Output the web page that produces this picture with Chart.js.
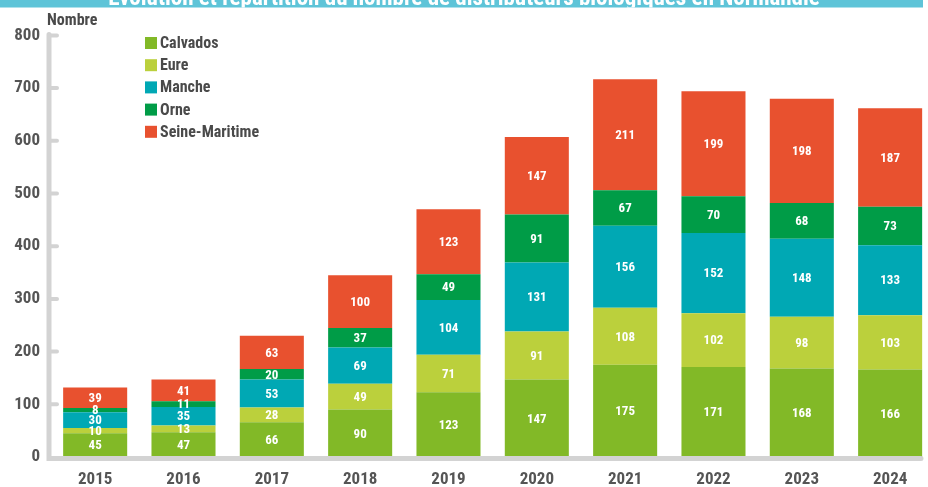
<!DOCTYPE html>
<html lang="fr">
<head>
  <meta charset="UTF-8" />
  <title>Distributeurs biologiques en Normandie</title>
  <script src="https://cdn.jsdelivr.net/npm/chart.js"></script>
  <style>
    html, body {
      margin: 0;
      padding: 0;
      background: #fff;
      overflow: hidden;
    }
    #wrap {
      position: relative;
      width: 940px;
      height: 487px;
    }
  </style>
</head>
<body>
  <div id="wrap"><canvas id="graphique"></canvas></div>

  <script>
    const annees = ["2015", "2016", "2017", "2018", "2019", "2020", "2021", "2022", "2023", "2024"];

    const calvados      = [45, 47, 66, 90, 123, 147, 175, 171, 168, 166];
    const eure          = [10, 13, 28, 49, 71, 91, 108, 102, 98, 103];
    const manche        = [30, 35, 53, 69, 104, 131, 156, 152, 148, 133];
    const orne          = [8, 11, 20, 37, 49, 91, 67, 70, 68, 73];
    const seineMaritime = [39, 41, 63, 100, 123, 147, 211, 199, 198, 187];

    const graduations = [0, 100, 200, 300, 400, 500, 600, 700, 800];

    const titre = "Évolution et répartition du nombre de distributeurs biologiques en Normandie";
    const police = "'Roboto Condensed', 'DejaVu Sans Condensed', sans-serif";
    const gris = "#d3d3d3";
    const texte = "#555555";

    // bandeau du titre, axes gris arrondis, légende et valeurs dans les barres
    const decor = {
      id: 'decor',
      beforeDraw(chart) {
        const ctx = chart.ctx;
        ctx.save();
        ctx.fillStyle = "#5ec4d8";
        ctx.fillRect(0, 0, 923, 7.5);
        ctx.beginPath();
        ctx.rect(0, 0, 923, 7.5);
        ctx.clip();
        ctx.fillStyle = "#fff";
        ctx.font = "bold 20px " + police;
        const w = ctx.measureText(titre).width;
        const taille = 20 * 712 / w;
        ctx.font = "bold " + taille.toFixed(1) + "px " + police;
        ctx.textAlign = "center";
        ctx.textBaseline = "alphabetic";
        ctx.fillText(titre, 464, 5);
        ctx.restore();

        ctx.save();
        ctx.fillStyle = "#4a4a4a";
        ctx.font = "bold 16px " + police;
        ctx.textBaseline = "middle";
        ctx.fillText("Nombre", 47, 21);
        ctx.restore();
      },
      afterDatasetsDraw(chart) {
        const ctx = chart.ctx;
        const y = chart.scales.y;

        // valeurs au centre de chaque segment
        ctx.save();
        ctx.fillStyle = "#fff";
        ctx.font = "bold 13px " + police;
        ctx.textAlign = "center";
        ctx.textBaseline = "middle";
        chart.data.datasets.forEach((ds, i) => {
          chart.getDatasetMeta(i).data.forEach((bar, j) => {
            ctx.fillText(String(ds.data[j]), bar.x, (bar.y + bar.base) / 2 + 1);
          });
        });
        ctx.restore();

        // axes
        ctx.save();
        ctx.strokeStyle = gris;
        ctx.lineCap = "round";
        const x0 = 49;
        const yBas = y.getPixelForValue(0) + 1.5;
        ctx.lineWidth = 5;
        ctx.beginPath();
        ctx.moveTo(x0, y.getPixelForValue(800) - 1);
        ctx.lineTo(x0, yBas);
        ctx.lineTo(921, yBas);
        ctx.stroke();
        ctx.lineWidth = 4;
        graduations.slice(1).forEach(v => {
          const py = y.getPixelForValue(v);
          ctx.beginPath();
          ctx.moveTo(x0, py);
          ctx.lineTo(57, py);
          ctx.stroke();
        });
        ctx.restore();

        // légende
        ctx.save();
        ctx.font = "bold 16px " + police;
        ctx.textBaseline = "middle";
        chart.data.datasets.forEach((ds, i) => {
          const cy = 43 + i * 22.2;
          ctx.fillStyle = ds.backgroundColor;
          ctx.fillRect(145, cy - 6, 12, 12);
          ctx.fillStyle = "#4a4a4a";
          ctx.fillText(ds.label, 160, cy + 1);
        });
        ctx.restore();
      }
    };

    const serie = (label, data, couleur) => ({
      label,
      data,
      backgroundColor: couleur,
      borderWidth: 0,
      categoryPercentage: 1,
      barPercentage: 0.725
    });

    new Chart(document.getElementById('graphique'), {
      type: 'bar',
      data: {
        labels: annees,
        datasets: [
          serie("Calvados", calvados, "#82b927"),
          serie("Eure", eure, "#bbd03c"),
          serie("Manche", manche, "#00a8b4"),
          serie("Orne", orne, "#009c47"),
          serie("Seine-Maritime", seineMaritime, "#e8512f")
        ]
      },
      options: {
        responsive: true,
        maintainAspectRatio: false,
        animation: false,
        layout: { padding: { top: 35.4, right: 5.7, left: 0, bottom: 0 } },
        plugins: {
          legend: { display: false },
          tooltip: { enabled: false }
        },
        scales: {
          x: {
            stacked: true,
            grid: { display: false, drawTicks: false },
            border: { display: false },
            ticks: {
              color: texte,
              font: { family: police, size: 17, weight: 'bold' },
              padding: 13
            },
            afterFit(scale) { scale.height = 30; }
          },
          y: {
            stacked: true,
            min: 0,
            max: 800,
            afterBuildTicks(scale) {
              scale.ticks = graduations.map(v => ({ value: v }));
            },
            grid: { display: false, drawTicks: false },
            border: { display: false },
            ticks: {
              color: texte,
              font: { family: police, size: 17, weight: 'bold' },
              padding: 11
            },
            afterFit(scale) { scale.width = 51; }
          }
        }
      },
      plugins: [decor]
    });
  </script>
</body>
</html>
